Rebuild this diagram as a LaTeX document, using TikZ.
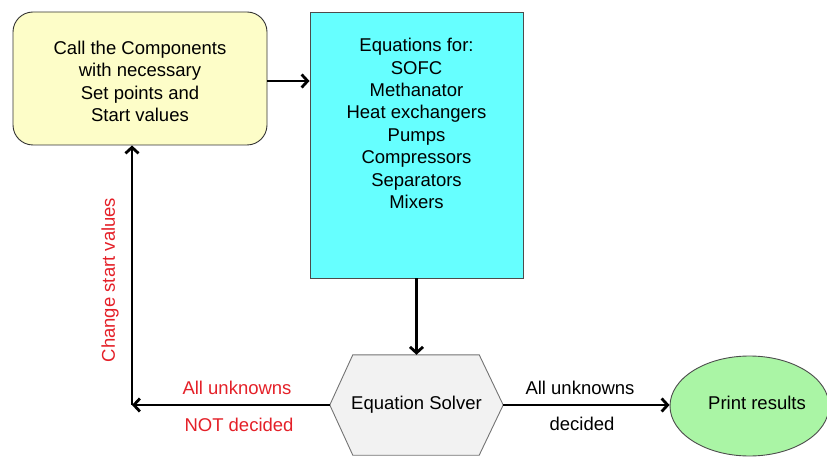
\documentclass[tikz,border=0pt]{standalone}
\usepackage{fontspec}
\setmainfont{Liberation Sans}
\usetikzlibrary{arrows.meta,shapes.geometric,backgrounds}
\definecolor{ybox}{RGB}{253,253,200}
\definecolor{cbox}{RGB}{102,255,255}
\definecolor{gbox}{RGB}{242,242,242}
\definecolor{pbox}{RGB}{170,245,165}
\definecolor{lblred}{RGB}{228,32,40}
\begin{document}
\begin{tikzpicture}[x=1pt,y=-1pt,
  every node/.style={font=\fontsize{18.5}{22.4}\selectfont, inner sep=0pt},
  flow/.style={line width=2.8pt, -{Straight Barb[length=6pt,width=13pt]}},
  callbox/.style={draw=black!80, line width=0.9pt, fill=ybox, rounded corners=20pt,
    minimum width=254pt, minimum height=133pt},
  eqbox/.style={draw=black!70, line width=0.9pt, fill=cbox,
    minimum width=213pt, minimum height=266pt},
  hexbox/.style={draw=black!55, line width=0.9pt, fill=gbox},
  printbox/.style={ellipse, draw=black!70, line width=0.9pt, fill=pbox,
    minimum width=159pt, minimum height=100pt},
  redlbl/.style={text=lblred}]
\useasboundingbox (0,0) rectangle (827,457);

\node[callbox] (call) at (140,78.5) {};
\node[align=center] (calltext) at (140,81.5) {Call the Components\\with necessary\\Set points and\\Start values};
\node[eqbox] (eq) at (416.5,145) {};
\node[anchor=north, align=center] (eqtext) at (416.5,38)
  {Equations for:\\SOFC\\Methanator\\Heat exchangers\\Pumps\\Compressors\\Separators\\Mixers};
\node[minimum width=173pt, minimum height=100pt] (solver) at (416.5,405) {Equation Solver};
\begin{scope}[on background layer]
\draw[hexbox] (solver.west) -- ([xshift=23pt]solver.north west) -- ([xshift=-24pt]solver.north east)
  -- (solver.east) -- ([xshift=-24pt]solver.south east) -- ([xshift=23pt]solver.south west) -- cycle;
\end{scope}
\node[printbox] (print) at (749.5,406) {};
\node (printtext) at (757,403) {Print results};

\coordinate (corner) at (132,405);

\draw[flow] ([yshift=-2.5pt]call.east) -- ([yshift=-2.5pt]call.east -| eq.west);
\draw[flow] (eq.south) -- (solver.north);
\draw[flow] (solver.west) -- (corner);
\draw[flow] (corner) -- (corner |- call.south);
\draw[flow] (solver.east) -- (print.west |- solver.east);

\node[redlbl] (nu1) at (237,388) {All unknowns};
\node[redlbl] (nu2) at (239,425) {NOT decided};
\node[redlbl, rotate=90] (chg) at (110,280) {Change start values};
\node (au1) at (580,388) {All unknowns};
\node (au2) at (582,424) {decided};
\end{tikzpicture}
\end{document}
